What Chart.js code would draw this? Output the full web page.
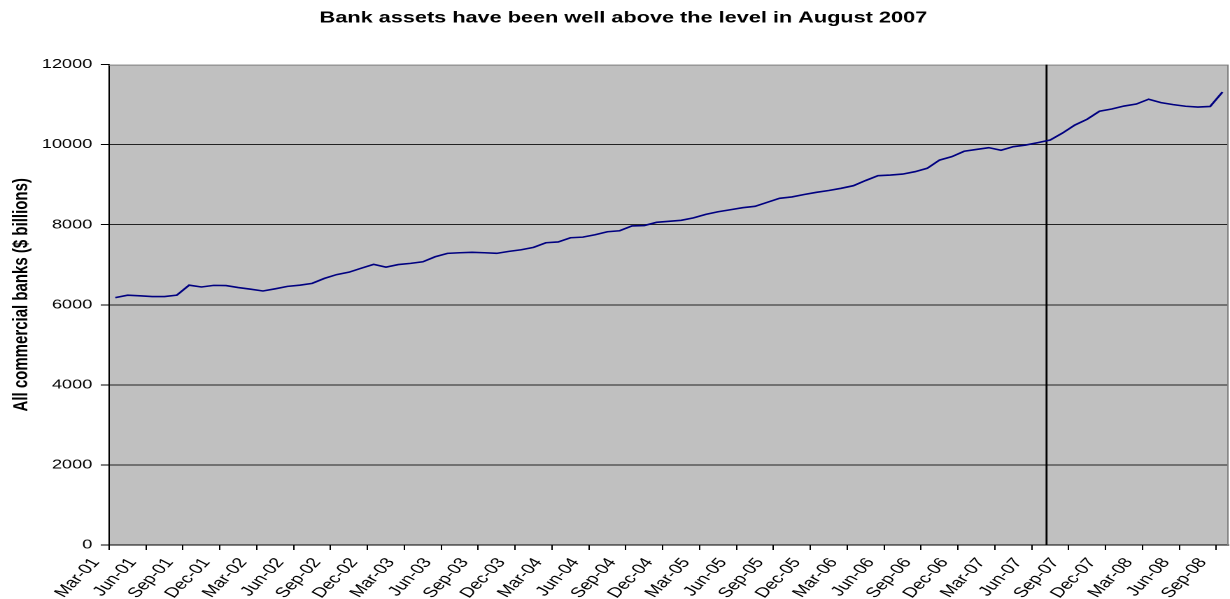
<!DOCTYPE html>
<html>
<head>
<meta charset="utf-8">
<title>Bank assets</title>
<script src="https://cdn.jsdelivr.net/npm/chart.js@4.4.1/dist/chart.umd.min.js"></script>
<style>
  body { margin: 0; background: #fff; }
  #wrap { width: 1230px; height: 599px; overflow: hidden; }
  /* drawn on a narrower canvas, then stretched sideways to fill the page */
  #bankChart { width: 1230px !important; height: 599px !important; }
</style>
</head>
<body>
<div id="wrap"><canvas id="bankChart" width="879" height="599" style="width:1230px;height:599px"></canvas></div>
<script>
// Meses (Mar-01 a Sep-08)
const months = [
  'Mar-01','Apr-01','May-01','Jun-01','Jul-01','Aug-01','Sep-01','Oct-01','Nov-01','Dec-01',
  'Jan-02','Feb-02','Mar-02','Apr-02','May-02','Jun-02','Jul-02','Aug-02','Sep-02','Oct-02','Nov-02','Dec-02',
  'Jan-03','Feb-03','Mar-03','Apr-03','May-03','Jun-03','Jul-03','Aug-03','Sep-03','Oct-03','Nov-03','Dec-03',
  'Jan-04','Feb-04','Mar-04','Apr-04','May-04','Jun-04','Jul-04','Aug-04','Sep-04','Oct-04','Nov-04','Dec-04',
  'Jan-05','Feb-05','Mar-05','Apr-05','May-05','Jun-05','Jul-05','Aug-05','Sep-05','Oct-05','Nov-05','Dec-05',
  'Jan-06','Feb-06','Mar-06','Apr-06','May-06','Jun-06','Jul-06','Aug-06','Sep-06','Oct-06','Nov-06','Dec-06',
  'Jan-07','Feb-07','Mar-07','Apr-07','May-07','Jun-07','Jul-07','Aug-07','Sep-07','Oct-07','Nov-07','Dec-07',
  'Jan-08','Feb-08','Mar-08','Apr-08','May-08','Jun-08','Jul-08','Aug-08','Sep-08'
];

// Ativos de todos os bancos comerciais ($ bilhões)
const assets = [
  6180, 6240, 6225, 6205, 6205, 6240, 6490, 6445, 6485, 6480,
  6430, 6390, 6345, 6400, 6460, 6490, 6535, 6660, 6755, 6815, 6915, 7010,
  6940, 7005, 7035, 7075, 7200, 7285, 7300, 7310, 7300, 7285, 7335, 7375,
  7435, 7550, 7570, 7675, 7690, 7750, 7825, 7850, 7970, 7980, 8060, 8085,
  8110, 8170, 8260, 8325, 8375, 8425, 8460, 8560, 8660, 8695, 8755, 8810,
  8855, 8910, 8975, 9105, 9225, 9240, 9265, 9325, 9410, 9615, 9700, 9835,
  9880, 9925, 9860, 9950, 9990, 10050, 10115, 10290, 10490, 10635, 10835, 10890,
  10965, 11015, 11135, 11050, 11000, 10960, 10940, 10955, 11315
];

const yMin = 0, yMax = 12000, yStep = 2000;
const labelEvery = 3; // rótulo a cada trimestre

const chartTitle = 'Bank assets have been well above the level in August 2007';
const yTitle = 'All commercial banks ($ billions)';

// linha vertical de agosto de 2007 (posição em meses a partir de Mar-01)
const markerPos = 75.7;

Chart.defaults.font.family = "'Liberation Sans', Arial, sans-serif";
Chart.defaults.color = '#000';

// Fundo cinza da área do gráfico, moldura, linha vertical e título do eixo Y
const plotDecor = {
  id: 'plotDecor',
  beforeDraw(chart) {
    const { ctx, chartArea: a } = chart;
    ctx.save();
    ctx.fillStyle = '#c0c0c0';
    ctx.fillRect(a.left, a.top, a.right - a.left, a.bottom - a.top);
    ctx.restore();
  },
  beforeDatasetsDraw(chart) {
    const { ctx, chartArea: a, scales: { x } } = chart;
    const i = Math.floor(markerPos);
    const p0 = x.getPixelForValue(i);
    const p1 = x.getPixelForValue(i + 1);
    const px = p0 + (p1 - p0) * (markerPos - i);
    ctx.save();
    ctx.strokeStyle = '#808080';
    ctx.lineWidth = 1;
    ctx.beginPath();
    ctx.moveTo(a.left, a.top + 0.5);
    ctx.lineTo(a.right - 0.5, a.top + 0.5);
    ctx.lineTo(a.right - 0.5, a.bottom);
    ctx.stroke();
    ctx.strokeStyle = '#000';
    ctx.lineWidth = 1.4;
    ctx.beginPath();
    ctx.moveTo(px, a.top);
    ctx.lineTo(px, a.bottom);
    ctx.stroke();
    ctx.restore();
  },
  afterDraw(chart) {
    const { ctx, chartArea: a } = chart;
    ctx.save();
    ctx.translate(15.5, (a.top + a.bottom) / 2 - 10);
    ctx.rotate(-Math.PI / 2);
    ctx.font = "bold 15px 'Liberation Sans', Arial, sans-serif";
    ctx.fillStyle = '#000';
    ctx.textAlign = 'center';
    ctx.textBaseline = 'middle';
    ctx.fillText(yTitle, 0, 0);
    ctx.restore();
  }
};

const ctx = document.getElementById('bankChart').getContext('2d');
new Chart(ctx, {
  type: 'line',
  data: {
    labels: months,
    datasets: [{
      data: assets,
      borderColor: '#000080',
      borderWidth: 1.6,
      pointRadius: 0,
      tension: 0,
      fill: false
    }]
  },
  options: {
    responsive: false,
    animation: false,
    devicePixelRatio: 2,
    layout: { autoPadding: false, padding: { top: 0, right: 1, bottom: 0, left: 13 } },
    plugins: {
      legend: { display: false },
      tooltip: { enabled: false },
      title: {
        display: true,
        text: chartTitle,
        color: '#000',
        font: { size: 15.5, weight: 'bold' },
        padding: { top: 9, bottom: 37 }
      }
    },
    scales: {
      x: {
        offset: true,
        grid: {
          offset: true,
          drawOnChartArea: false,
          tickLength: 5,
          color: c => (c.index % labelEvery === 0 ? '#000' : 'rgba(0,0,0,0)')
        },
        border: { color: '#000', width: 1 },
        ticks: {
          autoSkip: false,
          minRotation: 54,
          maxRotation: 54,
          padding: 5,
          labelOffset: -14,
          font: { size: 14 },
          callback: (v, i) => (i % labelEvery === 0 ? months[i] : '')
        },
        afterFit: s => {
          s.height = 54;
          // sem recuo extra para os rótulos inclinados
          s.paddingLeft = 0;
          s.paddingRight = 0;
        }
      },
      y: {
        min: yMin,
        max: yMax,
        grid: {
          color: c => (c.tick && c.tick.value === yMax ? 'rgba(0,0,0,0)' : '#222'),
          tickColor: '#000',
          tickLength: 6,
          lineWidth: 1
        },
        border: { color: '#000', width: 1 },
        ticks: {
          stepSize: yStep,
          padding: 6,
          font: { size: 13 },
          callback: v => String(v)
        },
        afterFit: s => { s.width = 65; }
      }
    }
  },
  plugins: [plotDecor]
});
</script>
</body>
</html>
